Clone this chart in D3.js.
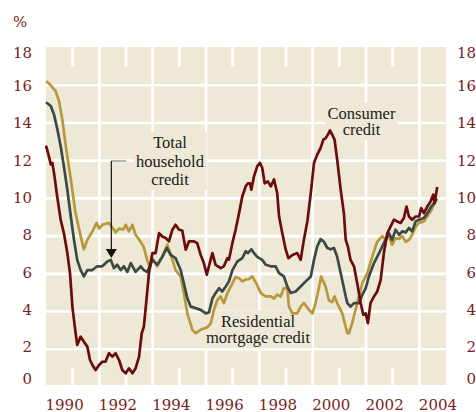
<!DOCTYPE html>
<html>
<head>
<meta charset="utf-8">
<script src="https://cdn.jsdelivr.net/npm/d3@7/dist/d3.min.js"></script>
<style>
body{margin:0;background:#fff}
svg{display:block}
</style>
</head>
<body>
<svg id="chart"></svg>
<script>
// values, [decimal year, % growth]
var mortgage = [
  [1990.00,16.2],[1990.11,16.1],[1990.36,15.7],[1990.49,15.15],[1990.61,14.2],[1990.74,12.8],
  [1990.93,11.0],[1991.11,9.2],[1991.30,8.0],[1991.42,7.3],[1991.55,7.8],[1991.74,8.25],
  [1991.90,8.7],[1991.99,8.4],[1992.11,8.6],[1992.36,8.7],[1992.49,8.45],[1992.61,8.2],
  [1992.74,8.4],[1992.90,8.35],[1992.99,8.6],[1993.11,8.25],[1993.24,8.6],[1993.36,8.07],
  [1993.55,7.7],[1993.67,7.4],[1993.80,6.7],[1993.90,6.3],[1993.97,6.9],[1994.05,6.7],
  [1994.17,6.4],[1994.36,6.9],[1994.55,7.55],[1994.74,6.75],[1994.86,6.2],[1995.05,5.86],
  [1995.17,4.98],[1995.30,3.9],[1995.49,3.03],[1995.61,2.85],[1995.80,3.03],[1996.05,3.17],
  [1996.18,3.38],[1996.30,4.1],[1996.42,4.6],[1996.55,4.8],[1996.67,4.45],[1996.80,4.98],
  [1996.99,5.5],[1997.11,5.83],[1997.24,5.77],[1997.36,5.6],[1997.49,5.7],[1997.60,5.72],
  [1997.74,5.86],[1997.92,5.4],[1998.05,4.98],[1998.24,4.8],[1998.43,4.8],[1998.55,4.7],
  [1998.67,4.9],[1998.80,4.8],[1998.92,5.24],[1999.05,5.24],[1999.11,4.26],[1999.24,3.9],
  [1999.42,3.9],[1999.55,4.26],[1999.67,4.45],[1999.80,4.2],[1999.99,3.9],[2000.11,4.45],
  [2000.24,5.3],[2000.32,5.86],[2000.49,5.3],[2000.61,4.6],[2000.73,4.5],[2000.82,4.8],
  [2000.92,4.45],[2001.11,3.9],[2001.30,2.85],[2001.36,2.85],[2001.48,3.38],[2001.67,4.45],
  [2001.86,5.5],[2002.05,6.04],[2002.23,6.9],[2002.42,7.7],[2002.61,8.0],[2002.74,7.8],
  [2002.86,8.0],[2002.98,7.54],[2003.11,7.9],[2003.24,7.85],[2003.36,8.0],[2003.49,7.7],
  [2003.61,7.8],[2003.73,8.07],[2003.86,8.5],[2003.99,8.7],[2004.17,8.78],[2004.30,9.05],
  [2004.42,9.3],[2004.55,9.67],[2004.65,9.93]
]
var household = [
  [1990.00,15.1],[1990.18,14.9],[1990.30,14.45],[1990.42,13.7],[1990.55,12.76],[1990.67,11.7],
  [1990.80,10.46],[1990.93,9.04],[1991.05,7.8],[1991.17,6.74],[1991.30,6.2],[1991.42,5.86],
  [1991.55,6.2],[1991.74,6.2],[1991.92,6.4],[1992.11,6.4],[1992.30,6.65],[1992.43,6.74],
  [1992.55,6.3],[1992.67,6.48],[1992.80,6.2],[1992.92,6.4],[1993.05,6.1],[1993.18,6.57],
  [1993.36,6.1],[1993.55,6.4],[1993.67,6.2],[1993.80,6.1],[1993.99,6.74],[1994.17,6.48],
  [1994.36,6.9],[1994.53,7.37],[1994.68,7.0],[1994.86,6.83],[1995.05,6.2],[1995.17,5.5],
  [1995.30,4.7],[1995.43,4.26],[1995.61,4.18],[1995.80,4.09],[1995.99,3.9],[1996.11,3.95],
  [1996.24,4.7],[1996.36,4.98],[1996.49,5.24],[1996.61,5.06],[1996.74,5.33],[1996.86,5.6],
  [1996.99,6.2],[1997.17,6.65],[1997.36,6.83],[1997.49,7.2],[1997.57,7.1],[1997.70,7.3],
  [1997.80,7.1],[1997.92,6.9],[1998.11,6.74],[1998.24,6.48],[1998.43,6.4],[1998.61,6.4],
  [1998.74,6.04],[1998.92,5.86],[1999.05,5.33],[1999.18,4.98],[1999.36,5.06],[1999.55,5.33],
  [1999.74,5.6],[1999.93,5.86],[2000.05,6.74],[2000.17,7.45],[2000.30,7.84],[2000.42,7.7],
  [2000.55,7.37],[2000.67,7.3],[2000.80,7.37],[2000.92,6.9],[2001.05,6.04],[2001.24,4.8],
  [2001.30,4.45],[2001.42,4.26],[2001.55,4.45],[2001.74,4.45],[2001.86,4.88],[2001.99,5.24],
  [2002.11,5.86],[2002.30,6.57],[2002.49,7.1],[2002.67,7.63],[2002.86,8.16],[2002.98,7.8],
  [2003.11,8.34],[2003.24,8.07],[2003.36,8.25],[2003.49,8.2],[2003.61,8.43],[2003.73,8.25],
  [2003.86,8.78],[2003.99,8.87],[2004.17,8.96],[2004.30,9.22],[2004.45,9.57],[2004.55,9.75],
  [2004.65,10.0]
]
var consumer = [
  [1990.00,12.8],[1990.11,12.23],[1990.18,11.8],[1990.24,11.88],[1990.30,11.35],[1990.42,10.1],
  [1990.55,8.87],[1990.67,8.16],[1990.80,7.1],[1990.90,6.04],[1990.99,4.26],[1991.08,3.2],
  [1991.17,2.23],[1991.30,2.67],[1991.42,2.4],[1991.55,2.14],[1991.65,1.43],[1991.74,1.17],
  [1991.86,0.9],[1991.99,1.17],[1992.11,1.34],[1992.23,1.34],[1992.36,1.79],[1992.49,1.61],
  [1992.61,1.79],[1992.74,1.43],[1992.86,0.9],[1992.99,0.73],[1993.11,0.99],[1993.24,0.73],
  [1993.36,0.99],[1993.49,1.61],[1993.59,2.85],[1993.67,3.2],[1993.78,4.8],[1993.86,6.04],
  [1993.99,7.1],[1994.11,7.1],[1994.24,8.16],[1994.36,7.98],[1994.49,7.9],[1994.61,7.72],
  [1994.74,8.34],[1994.86,8.6],[1994.99,8.34],[1995.11,8.3],[1995.24,7.28],[1995.36,7.72],
  [1995.55,7.72],[1995.67,7.63],[1995.80,7.0],[1995.92,6.57],[1996.03,5.95],[1996.11,6.4],
  [1996.24,7.1],[1996.36,6.48],[1996.55,6.3],[1996.67,6.4],[1996.80,6.83],[1996.86,6.75],
  [1996.99,7.63],[1997.11,8.34],[1997.24,9.22],[1997.36,10.1],[1997.49,10.64],[1997.57,10.8],
  [1997.65,10.8],[1997.70,10.46],[1997.80,11.17],[1997.92,11.7],[1998.02,11.88],[1998.11,11.61],
  [1998.20,10.8],[1998.32,10.9],[1998.43,10.64],[1998.55,11.0],[1998.67,10.28],[1998.74,9.04],
  [1998.86,8.16],[1998.99,7.28],[1999.09,6.83],[1999.24,7.0],[1999.42,7.1],[1999.55,6.74],
  [1999.67,7.8],[1999.80,8.78],[1999.93,10.28],[2000.05,11.88],[2000.17,12.32],[2000.30,12.68],
  [2000.40,13.12],[2000.49,13.2],[2000.57,13.38],[2000.65,13.6],[2000.73,13.38],[2000.82,13.12],
  [2000.92,12.05],[2001.05,10.46],[2001.17,9.22],[2001.24,7.8],[2001.32,7.45],[2001.42,6.74],
  [2001.55,6.4],[2001.67,5.5],[2001.80,4.45],[2001.90,3.83],[2001.99,3.9],[2002.07,3.38],
  [2002.17,4.45],[2002.30,4.8],[2002.42,5.06],[2002.55,5.68],[2002.67,7.1],[2002.80,8.16],
  [2002.92,8.5],[2003.05,8.87],[2003.17,8.78],[2003.30,8.7],[2003.42,8.96],[2003.52,9.57],
  [2003.61,9.04],[2003.73,8.87],[2003.86,9.04],[2003.99,9.04],[2004.07,9.49],[2004.17,9.22],
  [2004.30,9.57],[2004.42,9.84],[2004.52,10.2],[2004.57,9.75],[2004.67,10.6]
]
var yTicks = [0,2,4,6,8,10,12,14,16,18]
var gridValues = [2,4,6,8,10,12,14,16]
var yearLabels = [1990,1992,1994,1996,1998,2000,2002,2004]
var gridYears = [1992,1994,1996,1998,2000,2002,2004]
var oddYears = [1991,1993,1995,1997,1999,2001,2003]

var screen = {width:476, height:412}
var plot = {left:46, right:446, top:47, bottom:385}
var bg = "#EEE8D6"
var labelColor = "#7A1C1C"

var svg = d3.select("#chart")
    .attr("width", screen.width)
    .attr("height", screen.height)

var x = d3.scaleLinear().domain([1990, 2005]).range([plot.left, plot.right])
var y = d3.scaleLinear().domain([0, 18]).range([387, 47.5])

// background
svg.append("rect")
    .attr("x", plot.left).attr("y", plot.top)
    .attr("width", plot.right - plot.left)
    .attr("height", plot.bottom - plot.top)
    .attr("fill", bg)

// white gridlines
var grid = svg.append("g").attr("stroke", "#fff").attr("stroke-width", 2.6)
grid.selectAll(".h").data(gridValues).enter().append("line")
    .attr("x1", plot.left).attr("x2", plot.right)
    .attr("y1", function(d){return y(d)}).attr("y2", function(d){return y(d)})
grid.selectAll(".v").data(gridYears).enter().append("line")
    .attr("x1", function(d){return x(d)}).attr("x2", function(d){return x(d)})
    .attr("y1", plot.top).attr("y2", plot.bottom)
// short odd-year ticks, top and bottom
grid.selectAll(".tt").data(oddYears).enter().append("line")
    .attr("x1", function(d){return x(d)}).attr("x2", function(d){return x(d)})
    .attr("y1", plot.top).attr("y2", plot.top + 20)
grid.selectAll(".tb").data(oddYears).enter().append("line")
    .attr("x1", function(d){return x(d)}).attr("x2", function(d){return x(d)})
    .attr("y1", plot.bottom - 17).attr("y2", plot.bottom)

// axes (labels only)
var tickShift = function(v){
    if (v == 18) return 5
    if (v == 0) return -9
    return -(16 - v) * 0.2
}
var styleAxis = function(g){
    g.select(".domain").remove()
    g.selectAll("text")
        .attr("fill", labelColor)
        .style("font-family", "'DejaVu Serif', serif")
        .style("font-size", "15px")
}
svg.append("g")
    .attr("transform", "translate(32,0)")
    .call(d3.axisLeft(y).tickValues(yTicks).tickSize(0).tickPadding(0))
    .call(styleAxis)
    .selectAll(".tick text")
    .attr("dy", function(d){return (tickShift(d) + 5.2) + "px"})

svg.append("g")
    .attr("transform", "translate(476,0)")
    .call(d3.axisLeft(y).tickValues(yTicks).tickSize(0).tickPadding(0))
    .call(styleAxis)
    .selectAll(".tick text")
    .attr("dy", function(d){return (tickShift(d) + 5.2) + "px"})

svg.append("g")
    .attr("transform", "translate(0,410)")
    .call(d3.axisBottom(x).tickValues(yearLabels).tickFormat(d3.format("d")).tickSize(0).tickPadding(0))
    .call(styleAxis)
    .selectAll(".tick text")
    .attr("text-anchor", "start")
    .attr("x", -1)
    .attr("y", 0)
    .attr("dy", 0)

svg.append("text")
    .attr("x", 13).attr("y", 27)
    .attr("fill", labelColor)
    .style("font-family", "'DejaVu Serif', serif")
    .style("font-size", "15px")
    .text("%")

// annotation boxes + text
var notes = [
    {lines:["Total","household","credit"], x:170, y:148, lh:18.5},
    {lines:["Consumer","credit"], x:361.5, y:118.5, lh:16.8},
    {lines:["Residential","mortgage credit"], x:258, y:326.5, lh:16.8}
]
var noteBoxes = svg.append("g")
var lineLayer = svg.append("g")
var noteLayer = svg.append("g")

// arrow to total household credit
var ax = x(1992.45)
noteLayer.append("line")
    .attr("x1", ax).attr("x2", ax + 15).attr("y1", 161).attr("y2", 161)
    .attr("stroke", "#8a8a8a").attr("stroke-width", 1.3)
noteLayer.append("line")
    .attr("x1", ax).attr("x2", ax).attr("y1", 161).attr("y2", 250)
    .attr("stroke", "#111").attr("stroke-width", 1.2)
noteLayer.append("path")
    .attr("d", "M" + (ax - 5.5) + ",249L" + (ax + 5.5) + ",249L" + ax + ",258Z")
    .attr("fill", "#111")

notes.forEach(function(n){
    var t = noteLayer.append("text")
        .attr("text-anchor", "middle")
        .attr("fill", "#1a1a1a")
        .style("font-family", "'Liberation Serif', serif")
        .style("font-size", "16.5px")
    n.lines.forEach(function(s, i){
        t.append("tspan").attr("x", n.x).attr("y", n.y + i * n.lh).text(s)
    })
    var b = t.node().getBBox()
    noteBoxes.append("rect")
        .attr("x", b.x - 2).attr("y", b.y - 1)
        .attr("width", b.width + 4).attr("height", b.height + 2)
        .attr("fill", bg)
})

// series lines
var lineGen = d3.line()
    .x(function(d){return x(d[0])})
    .y(function(d){return y(d[1])})

var series = [
    {name:"mortgage", data:mortgage, color:"#B7983A"},
    {name:"household", data:household, color:"#3A4947"},
    {name:"consumer", data:consumer, color:"#6A0C0C"}
]
lineLayer.selectAll("path")
    .data(series)
    .enter()
    .append("path")
    .attr("d", function(s){return lineGen(s.data)})
    .attr("fill", "none")
    .attr("stroke", function(s){return s.color})
    .attr("stroke-width", 2.7)
    .attr("stroke-linejoin", "round")
</script>
</body>
</html>
